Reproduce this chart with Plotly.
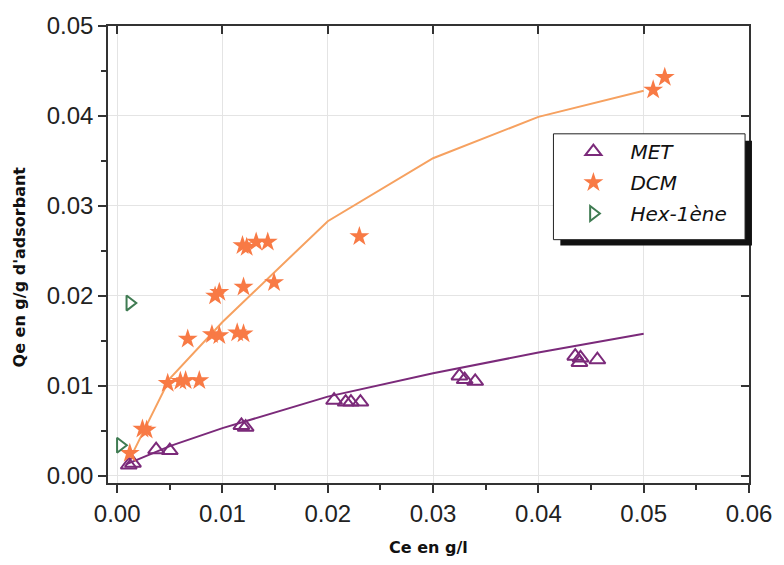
import plotly.graph_objects as go

# ---------------- data ----------------
met_ce = [0.0011, 0.0015, 0.0037, 0.0050, 0.0118, 0.0122, 0.0206, 0.0217, 0.0222, 0.0231,
          0.0325, 0.0330, 0.0340, 0.0435, 0.0440, 0.0439, 0.0456]
met_qe = [0.0012, 0.0014, 0.0029, 0.0028, 0.0056, 0.0054, 0.0084, 0.0082, 0.0082, 0.0082,
          0.0111, 0.0107, 0.0105, 0.0133, 0.0131, 0.0126, 0.0129]

dcm_ce = [0.0012, 0.0024, 0.0028, 0.0048, 0.0060, 0.0065, 0.0078, 0.0067, 0.0090, 0.0097,
          0.0114, 0.0120, 0.0093, 0.0097, 0.0120, 0.0149, 0.0119, 0.0123, 0.0132, 0.0143,
          0.0230, 0.0509, 0.0520]
dcm_qe = [0.0025, 0.0052, 0.0051, 0.0103, 0.0105, 0.0106, 0.0106, 0.0152, 0.0157, 0.0156,
          0.0159, 0.0158, 0.0200, 0.0204, 0.0210, 0.0215, 0.0256, 0.0254, 0.0260, 0.0260,
          0.0266, 0.0429, 0.0443]

hex_ce = [0.0012, 0.0003]
hex_qe = [0.0192, 0.0034]

met_fit_ce = [0.0009, 0.005, 0.010, 0.020, 0.030, 0.040, 0.050]
met_fit_qe = [0.0013, 0.0033, 0.0053, 0.0088, 0.0114, 0.0137, 0.0158]

dcm_fit_ce = [0.0013, 0.005, 0.010, 0.020, 0.030, 0.040, 0.050]
dcm_fit_qe = [0.0021, 0.0108, 0.0171, 0.0283, 0.0353, 0.0399, 0.0428]

x_ticks = [0.00, 0.01, 0.02, 0.03, 0.04, 0.05, 0.06]
y_ticks = [0.00, 0.01, 0.02, 0.03, 0.04, 0.05]

x_title = "Ce en g/l"
y_title = "Qe en g/g d'adsorbant"

# ---------------- styling ----------------
PURPLE = "#7B2A7A"
ORANGE = "#F87A45"
ORANGE_LINE = "#F6A160"
GREEN = "#3F7B52"
AXIS = "#333333"
GRID = "#E4E4E4"

X_RANGE = [-0.00087, 0.060]
Y_RANGE = [-0.0008, 0.050]

fig = go.Figure()

fig.add_trace(go.Scatter(x=met_fit_ce, y=met_fit_qe, mode="lines",
                         line=dict(color=PURPLE, width=2), showlegend=False, hoverinfo="skip"))
fig.add_trace(go.Scatter(x=dcm_fit_ce, y=dcm_fit_qe, mode="lines",
                         line=dict(color=ORANGE_LINE, width=2), showlegend=False, hoverinfo="skip"))

fig.add_trace(go.Scatter(x=met_ce, y=met_qe, mode="markers", name="MET", legendgroup="a",
                         marker=dict(symbol="triangle-up-open", size=14, color=PURPLE,
                                     line=dict(width=2, color=PURPLE))))
fig.add_trace(go.Scatter(x=dcm_ce, y=dcm_qe, mode="markers", name="DCM", legendgroup="b",
                         marker=dict(symbol="star", size=15, color=ORANGE,
                                     line=dict(width=0))))
fig.add_trace(go.Scatter(x=hex_ce, y=hex_qe, mode="markers", name="Hex-1ène", legendgroup="c",
                         marker=dict(symbol="triangle-right-open", size=13, color=GREEN,
                                     line=dict(width=2, color=GREEN))))

# invisible helper trace for the mirrored (inside) ticks on top/right
fig.add_trace(go.Scatter(x=[None], y=[None], xaxis="x2", yaxis="y2", showlegend=False,
                         hoverinfo="skip"))

tick_font = dict(family="Liberation Sans, Arial, sans-serif", size=24, color="#222222")

fig.update_layout(
    width=784, height=565,
    paper_bgcolor="white", plot_bgcolor="white",
    margin=dict(l=108, r=27, t=21, b=82),
    xaxis=dict(range=X_RANGE, tickvals=x_ticks, ticktext=[f"{v:.2f}" for v in x_ticks],
               ticks="outside", ticklen=8, tickwidth=1.5, tickcolor=AXIS,
               showline=True, linecolor=AXIS, linewidth=1.5, mirror=True,
               showgrid=True, gridcolor=GRID, gridwidth=1, zeroline=False,
               tickfont=tick_font,
               minor=dict(tickvals=[0.005, 0.015, 0.025, 0.035, 0.045, 0.055],
                          ticks="outside", ticklen=5, tickcolor=AXIS, showgrid=False)),
    yaxis=dict(range=Y_RANGE, tickvals=y_ticks, ticktext=[f"{v:.2f}" for v in y_ticks],
               ticks="outside", ticklen=8, tickwidth=1.5, tickcolor=AXIS,
               showline=True, linecolor=AXIS, linewidth=1.5, mirror=True,
               showgrid=True, gridcolor=GRID, gridwidth=1, zeroline=False,
               tickfont=tick_font,
               minor=dict(tickvals=[0.005, 0.015, 0.025, 0.035, 0.045],
                          ticks="outside", ticklen=5, tickcolor=AXIS, showgrid=False)),
    xaxis2=dict(range=X_RANGE, overlaying="x", side="top", anchor="y2",
                tickvals=x_ticks, showticklabels=False, ticks="inside", ticklen=8,
                tickwidth=1.5, tickcolor=AXIS, showgrid=False, zeroline=False, showline=False),
    yaxis2=dict(range=Y_RANGE, overlaying="y", side="right", anchor="x2",
                tickvals=y_ticks, showticklabels=False, ticks="inside", ticklen=8,
                tickwidth=1.5, tickcolor=AXIS, showgrid=False, zeroline=False, showline=False),
    showlegend=True,
    legend=dict(x=(562 - 108) / 649.0, y=0.768, xanchor="left", yanchor="top",
                bgcolor="rgba(0,0,0,0)", borderwidth=0,
                font=dict(family="DejaVu Sans, sans-serif", size=20, color="#111111",
                          style="italic"),
                itemwidth=64, tracegroupgap=2),
)


def px_x(p):
    return (p - 108) / 649.0


def px_y(p):
    return (483 - p) / 462.0


# legend frame with dark drop shadow
fig.add_shape(type="rect", xref="paper", yref="paper",
              x0=px_x(566), x1=px_x(760), y0=px_y(243), y1=px_y(137),
              fillcolor="#111111", line=dict(width=0), layer="above")
fig.add_shape(type="rect", xref="paper", yref="paper",
              x0=px_x(559), x1=px_x(753), y0=px_y(237), y1=px_y(130),
              fillcolor="white", line=dict(color="#222222", width=1), layer="above")

title_font = dict(family="DejaVu Sans, sans-serif", size=16, color="#111111", weight="bold")
fig.add_annotation(text=x_title, xref="paper", yref="paper", x=px_x(433), y=px_y(548),
                   showarrow=False, font=title_font, xanchor="center", yanchor="middle")
fig.add_annotation(text=y_title, xref="paper", yref="paper", x=px_x(18), y=px_y(265),
                   showarrow=False, font=title_font, textangle=-90,
                   xanchor="center", yanchor="middle")

fig.write_html("out.html", config={"displayModeBar": False},
               post_script="document.body.style.margin='0';document.body.style.padding='0';")
